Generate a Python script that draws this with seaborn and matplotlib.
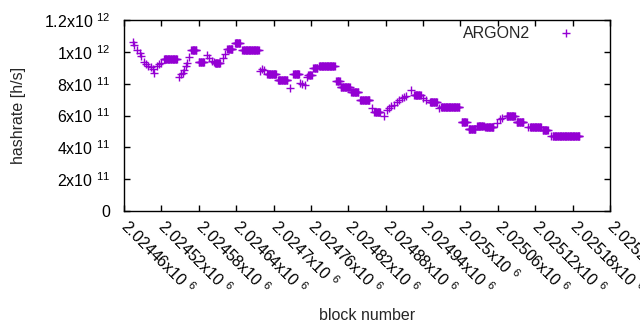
import matplotlib
matplotlib.use('Agg')
import matplotlib.pyplot as plt
import pandas as pd
import seaborn as sns

# runs of constant hashrate: first block, last block, hashrate (x1e11 h/s)
run_start = [2024474, 2024476, 2024481, 2024486, 2024488, 2024492, 2024496, 2024499,
             2024503, 2024507, 2024508, 2024513, 2024516, 2024519, 2024524, 2024549,
             2024552, 2024554, 2024556, 2024559, 2024561, 2024564, 2024568, 2024580,
             2024593, 2024597, 2024601, 2024604, 2024606, 2024619, 2024622, 2024626,
             2024638, 2024650, 2024679, 2024681, 2024684, 2024690, 2024707, 2024727,
             2024732, 2024743, 2024746, 2024750, 2024754, 2024756, 2024764, 2024773,
             2024801, 2024808, 2024825, 2024839, 2024858, 2024862, 2024878, 2024882,
             2024885, 2024889, 2024893, 2024898, 2024902, 2024906, 2024910, 2024913,
             2024920, 2024926, 2024940, 2024945, 2024951, 2024965, 2024969, 2025002,
             2025013, 2025027, 2025040, 2025059, 2025063, 2025067, 2025074, 2025090,
             2025108, 2025112, 2025132, 2025145, 2025148]
run_end = [2024474, 2024476, 2024481, 2024486, 2024488, 2024492, 2024496, 2024499,
           2024503, 2024507, 2024508, 2024513, 2024516, 2024519, 2024545, 2024549,
           2024552, 2024554, 2024556, 2024559, 2024561, 2024564, 2024576, 2024588,
           2024593, 2024597, 2024601, 2024604, 2024614, 2024619, 2024622, 2024634,
           2024646, 2024676, 2024679, 2024681, 2024684, 2024704, 2024722, 2024727,
           2024741, 2024743, 2024746, 2024750, 2024754, 2024761, 2024770, 2024798,
           2024806, 2024822, 2024836, 2024854, 2024858, 2024871, 2024878, 2024882,
           2024885, 2024889, 2024893, 2024898, 2024902, 2024906, 2024910, 2024913,
           2024920, 2024936, 2024940, 2024945, 2024962, 2024965, 2024998, 2025010,
           2025024, 2025037, 2025053, 2025059, 2025063, 2025067, 2025087, 2025101,
           2025108, 2025129, 2025140, 2025145, 2025191]
run_rate = [10.62, 10.43, 10.12, 9.91, 9.74, 9.34, 9.22, 9.11,
            9.03, 8.90, 8.70, 9.11, 9.24, 9.30, 9.57, 8.44,
            8.59, 8.70, 8.86, 9.08, 9.30, 9.68, 10.13, 9.34,
            9.80, 9.61, 9.44, 9.36, 9.27, 9.64, 9.86, 10.15,
            10.54, 10.10, 8.80, 8.90, 8.83, 8.61, 8.20, 7.71,
            8.59, 8.07, 7.96, 7.92, 8.44, 8.54, 8.97, 9.08,
            8.14, 7.82, 7.46, 6.96, 6.47, 6.23, 6.00, 6.35,
            6.50, 6.60, 6.69, 6.87, 6.97, 7.07, 7.16, 7.23,
            7.60, 7.29, 7.07, 6.97, 6.83, 6.45, 6.52, 5.57,
            5.15, 5.32, 5.25, 5.56, 5.75, 5.82, 5.96, 5.62,
            5.30, 5.26, 5.06, 4.71, 4.74]

xtick_vals = [2024460, 2024520, 2024580, 2024640, 2024700, 2024760, 2024820,
              2024880, 2024940, 2025000, 2025060, 2025120, 2025180, 2025240]
xtick_labels = ['2.02446', '2.02452', '2.02458', '2.02464', '2.0247', '2.02476', '2.02482',
                '2.02488', '2.02494', '2.025', '2.02506', '2.02512', '2.02518', '2.02524']
ytick_vals = [0, 2e11, 4e11, 6e11, 8e11, 1e12, 1.2e12]
ytick_labels = ['0', '2x10', '4x10', '6x10', '8x10', '1x10', '1.2x10']
ytick_exps = ['', '11', '11', '11', '11', '12', '12']

# one point per block
blocks, rates = [], []
for s, e, r in zip(run_start, run_end, run_rate):
    for b in range(s, e + 1):
        blocks.append(b)
        rates.append(r * 1e11)
df = pd.DataFrame({'block number': blocks, 'hashrate': rates})

sns.set_style('ticks')
plt.rcParams['font.family'] = ['Liberation Sans', 'DejaVu Sans']
plt.rcParams['font.size'] = 11.5

fig = plt.figure(figsize=(6.4, 3.3), dpi=100)
ax = fig.add_axes([124 / 640, 1 - 211 / 330, 486 / 640, 191 / 330])

sns.scatterplot(data=df, x='block number', y='hashrate', marker='+', color='#9400d3',
                s=36, linewidth=1, label='ARGON2', ax=ax)

ax.set_xlim(xtick_vals[0], xtick_vals[-1])
ax.set_ylim(ytick_vals[0], ytick_vals[-1])

ax.set_xticks(xtick_vals)
ax.set_xticklabels([t + 'x10 $^{\\mathregular{6}}$' for t in xtick_labels])
ax.set_yticks(ytick_vals)
ax.set_yticklabels([t if e == '' else t + ' $^{\\mathregular{' + e + '}}$'
                    for t, e in zip(ytick_labels, ytick_exps)])

ax.tick_params(direction='in', length=4, width=1, top=True, right=True, colors='black')
ax.tick_params(axis='y', pad=10)
ax.tick_params(axis='x', pad=9)
plt.setp(ax.get_xticklabels(), rotation=-45, ha='left', va='center', rotation_mode='anchor')
for sp in ax.spines.values():
    sp.set_visible(True)
    sp.set_linewidth(1)
    sp.set_color('black')

ax.set_xlabel('block number')
ax.set_ylabel('hashrate [h/s]')
ax.xaxis.set_label_coords(0.5, -97 / 191)
ax.yaxis.set_label_coords(-98 / 486, 0.5)

ax.legend(loc='center right', bbox_to_anchor=(470 / 486, 178 / 191), frameon=False,
          markerfirst=False, handlelength=3.5, handletextpad=0.5, borderpad=0,
          borderaxespad=0)

fig.savefig('out.png', dpi=100)
